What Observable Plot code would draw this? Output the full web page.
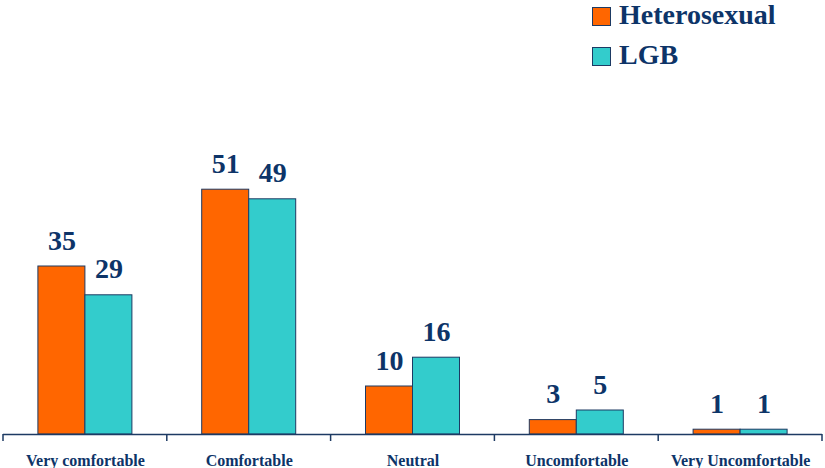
<!DOCTYPE html>
<html>
<head>
<meta charset="utf-8">
<script src="https://cdn.jsdelivr.net/npm/d3@7"></script>
<script src="https://cdn.jsdelivr.net/npm/@observablehq/plot@0.6"></script>
<style>
  html, body { margin: 0; padding: 0; background: #fff; }
  #wrap { position: relative; width: 825px; height: 468px; overflow: hidden; }
  .legend { position: absolute; left: 592px; top: 0; font-family: "Liberation Serif", "Times New Roman", serif; font-weight: bold; font-size: 28px; color: #0d3468; }
  .legend .item { position: absolute; left: 0; white-space: nowrap; height: 30px; }
  .legend .swatch { position: absolute; left: 0; top: 0; width: 17px; height: 17px; border: 1px solid #1d3a63; }
  .legend .label { position: absolute; left: 27px; top: -7px; line-height: 30px; }
</style>
</head>
<body>
<div id="wrap">
  <div id="chart"></div>
  <div class="legend" id="legend"></div>
</div>
<script>
// Comfort level categories along the x axis
const categories = ["Very comfortable", "Comfortable", "Neutral", "Uncomfortable", "Very Uncomfortable"];
// Series names and percentages per category
const seriesNames = ["Heterosexual", "LGB"];
const heterosexual = [35, 51, 10, 3, 1];
const lgb = [29, 49, 16, 5, 1];
const seriesColors = ["#ff6600", "#33cccc"];

const navy = "#0d3468";
const outline = "#1d3a63";

const rows = categories.flatMap((c, i) => [
  {category: c, group: seriesNames[0], value: heterosexual[i]},
  {category: c, group: seriesNames[1], value: lgb[i]}
]);
const hetRows = rows.filter(d => d.group === seriesNames[0]);
const lgbRows = rows.filter(d => d.group === seriesNames[1]);

const width = 825, height = 468;
const marginLeft = 3, marginRight = 3;
const band = (width - marginLeft - marginRight) / categories.length;
const barW = 47;
const outer = band / 2 - barW;

// Short tick marks at the boundaries between categories
function boundaryTicks(index, scales) {
  const x = scales.x, y = scales.y;
  const y0 = y(0);
  const g = d3.create("svg:g");
  const edges = categories.map(c => x(c)).concat([x(categories[categories.length - 1]) + x.bandwidth()]);
  for (const e of edges) {
    g.append("line")
      .attr("x1", e).attr("x2", e)
      .attr("y1", y0).attr("y2", y0 + 7)
      .attr("stroke", outline).attr("stroke-width", 1.5);
  }
  return g.node();
}

const chart = Plot.plot({
  width, height,
  marginTop: 50, marginBottom: 34, marginLeft, marginRight,
  style: {fontFamily: "'Liberation Serif', 'Times New Roman', serif", fontWeight: "bold", color: navy, background: "#fff", fontSize: "16px", overflow: "visible"},
  x: {domain: categories, padding: 0, round: false, axis: "bottom", tickSize: 0, tickPadding: 20, label: null},
  y: {domain: [0, 80], axis: null},
  marks: [
    Plot.barY(hetRows, {x: "category", y: "value", fill: seriesColors[0], stroke: outline, strokeWidth: 1, insetLeft: outer, insetRight: band - outer - barW}),
    Plot.barY(lgbRows, {x: "category", y: "value", fill: seriesColors[1], stroke: outline, strokeWidth: 1, insetLeft: band - outer - barW, insetRight: outer}),
    Plot.text(hetRows, {x: "category", y: "value", text: d => String(d.value), dx: -barW / 2, dy: -17, lineAnchor: "bottom", fontSize: 28, fontWeight: "bold", fill: navy}),
    Plot.text(lgbRows, {x: "category", y: "value", text: d => String(d.value), dx: barW / 2, dy: -17, lineAnchor: "bottom", fontSize: 28, fontWeight: "bold", fill: navy}),
    Plot.ruleY([0], {stroke: outline, strokeWidth: 1.5}),
    boundaryTicks
  ]
});
document.getElementById("chart").append(chart);

// Legend in the top-right corner
const legend = document.getElementById("legend");
seriesNames.forEach((name, i) => {
  const item = document.createElement("div");
  item.className = "item";
  item.style.top = (7 + i * 40) + "px";
  const sw = document.createElement("div");
  sw.className = "swatch";
  sw.style.background = seriesColors[i];
  const lb = document.createElement("div");
  lb.className = "label";
  lb.textContent = name;
  item.append(sw, lb);
  legend.append(item);
});
</script>
</body>
</html>
